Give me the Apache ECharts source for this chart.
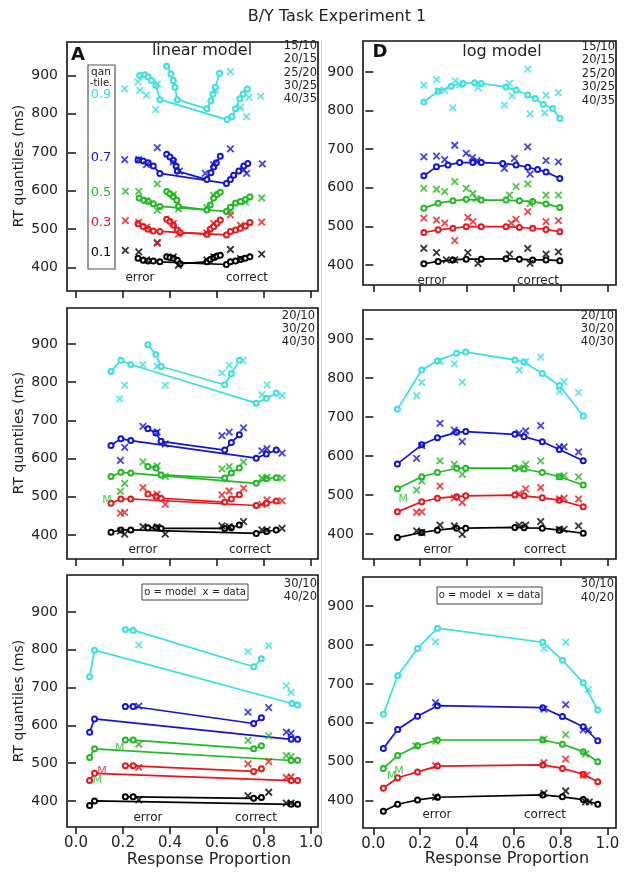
<!DOCTYPE html>
<html><head><meta charset="utf-8">
<script src="https://cdn.jsdelivr.net/npm/echarts@6.0.0/dist/echarts.min.js"></script>
<style>html,body{margin:0;padding:0;background:#fff}#c{width:632px;height:880px}</style>
</head><body><div id="c"></div>
<script>
// ---- tick labels / categories ----
const xTicks = [0, 0.2, 0.4, 0.6, 0.8, 1.0];
const yTicks = [400, 500, 600, 700, 800, 900];
const quantileLabels = ['0.1', '0.3', '0.5', '0.7', '0.9'];
const colors = ['#000000', '#e8161c', '#22b822', '#1414d2', '#38e0e0'];
const topConditions = ['15/10', '20/15', '25/20', '30/25', '40/35'];
const midConditions = ['20/10', '30/20', '40/30'];
const botConditions = ['30/10', '40/20'];

// ---- Panel A (linear model, top). Index = quantile 0.1,0.3,0.5,0.7,0.9 ----
const tlModel = [
  [[[0.264,424],[0.286,419],[0.307,417],[0.329,417],[0.357,415],[0.640,408],[0.657,415],[0.679,417],[0.700,421],[0.721,424],[0.740,428]],
   [[0.386,428],[0.400,426],[0.414,424],[0.431,419],[0.443,410],[0.557,415],[0.571,421],[0.586,426],[0.600,430],[0.614,432]]],
  [[[0.264,514],[0.286,507],[0.307,500],[0.329,495],[0.357,494],[0.640,485],[0.657,494],[0.679,498],[0.700,502],[0.721,508],[0.740,517]],
   [[0.386,526],[0.400,520],[0.414,511],[0.431,498],[0.443,491],[0.557,487],[0.571,500],[0.586,507],[0.600,515],[0.614,524]]],
  [[[0.269,581],[0.289,575],[0.307,572],[0.329,566],[0.357,559],[0.640,546],[0.657,557],[0.679,568],[0.700,572],[0.721,577],[0.740,584]],
   [[0.386,598],[0.400,592],[0.414,585],[0.429,575],[0.436,559],[0.557,550],[0.571,563],[0.586,581],[0.600,590],[0.614,596]]],
  [[[0.264,680],[0.286,677],[0.307,673],[0.329,664],[0.357,645],[0.640,619],[0.657,629],[0.671,640],[0.693,651],[0.714,664],[0.731,671]],
   [[0.386,695],[0.400,688],[0.414,679],[0.426,664],[0.431,651],[0.557,629],[0.574,647],[0.586,662],[0.597,673],[0.614,690]]],
  [[[0.271,900],[0.293,902],[0.307,896],[0.321,887],[0.340,874],[0.357,837],[0.643,785],[0.664,793],[0.679,813],[0.697,839],[0.711,852],[0.729,865]],
   [[0.386,924],[0.404,904],[0.414,887],[0.421,869],[0.431,837],[0.557,813],[0.574,834],[0.583,852],[0.593,869],[0.611,906]]]
];
const tlData = [
  [[0.210,445],[0.267,441],[0.346,465],[0.657,447],[0.790,435],[0.436,406],[0.300,420],[0.414,428],[0.586,428],[0.700,423],[0.557,420]],
  [[0.210,522],[0.267,518],[0.346,463],[0.657,537],[0.790,518],[0.300,505],[0.414,515],[0.436,487],[0.586,515],[0.700,510],[0.557,490]],
  [[0.210,598],[0.267,598],[0.346,618],[0.346,549],[0.657,546],[0.790,581],[0.300,575],[0.414,590],[0.586,588],[0.721,570],[0.436,553],[0.557,556]],
  [[0.207,681],[0.267,681],[0.346,712],[0.657,709],[0.440,651],[0.550,645],[0.726,645],[0.793,670],[0.300,668],[0.414,675],[0.586,668],[0.714,655]],
  [[0.207,865],[0.264,883],[0.271,861],[0.300,849],[0.339,811],[0.347,878],[0.657,910],[0.593,861],[0.700,817],[0.726,793],[0.736,843],[0.786,846]]
];

// ---- Panel D (log model, top) ----
const trModel = [
  [[[0.216,403],[0.277,409],[0.340,413],[0.397,415],[0.461,415],[0.567,416],[0.624,415],[0.681,413],[0.738,413],[0.797,411]]],
  [[[0.216,484],[0.277,491],[0.340,495],[0.397,499],[0.461,499],[0.567,499],[0.624,497],[0.681,495],[0.738,492],[0.797,486]]],
  [[[0.216,547],[0.277,560],[0.340,566],[0.397,570],[0.461,568],[0.567,568],[0.624,566],[0.681,564],[0.738,558],[0.797,549]]],
  [[[0.216,631],[0.270,654],[0.319,659],[0.369,665],[0.426,665],[0.461,665],[0.553,663],[0.610,659],[0.660,653],[0.702,647],[0.738,641],[0.797,624]]],
  [[[0.216,822],[0.277,850],[0.333,863],[0.383,870],[0.433,872],[0.461,870],[0.567,861],[0.610,853],[0.660,840],[0.692,831],[0.726,816],[0.766,805],[0.797,779]]]
];
const trData = [
  [[0.216,443],[0.270,432],[0.312,413],[0.348,413],[0.404,432],[0.447,404],[0.582,428],[0.660,443],[0.670,404],[0.738,428],[0.791,434]],
  [[0.216,521],[0.270,516],[0.305,508],[0.348,463],[0.404,523],[0.426,512],[0.589,508],[0.610,518],[0.660,538],[0.738,512],[0.791,515]],
  [[0.216,598],[0.270,596],[0.305,590],[0.348,616],[0.397,598],[0.426,585],[0.440,572],[0.582,581],[0.610,603],[0.660,610],[0.670,559],[0.738,581],[0.791,581]],
  [[0.216,680],[0.270,682],[0.305,673],[0.348,710],[0.397,689],[0.423,678],[0.443,670],[0.560,650],[0.603,676],[0.660,706],[0.670,635],[0.738,670],[0.791,667]],
  [[0.216,866],[0.270,880],[0.279,851],[0.305,852],[0.340,807],[0.350,877],[0.369,866],[0.447,859],[0.560,814],[0.582,870],[0.593,838],[0.660,907],[0.670,791],[0.738,840],[0.733,794],[0.791,846]]
];

// ---- linear model, middle ----
const mlModel = [
  [[[0.149,407],[0.191,413],[0.233,413],[0.767,404],[0.810,409],[0.852,413]],
   [[0.306,419],[0.340,419],[0.362,417],[0.633,417],[0.661,419],[0.695,426]]],
  [[[0.149,483],[0.191,494],[0.233,494],[0.767,477],[0.810,483],[0.852,489]],
   [[0.306,507],[0.340,501],[0.362,496],[0.633,486],[0.661,494],[0.695,505]]],
  [[[0.149,553],[0.191,564],[0.233,562],[0.767,535],[0.810,547],[0.852,550]],
   [[0.306,579],[0.340,575],[0.362,557],[0.633,549],[0.661,562],[0.695,575]]],
  [[[0.149,634],[0.191,652],[0.233,647],[0.767,601],[0.810,612],[0.852,622]],
   [[0.306,678],[0.340,667],[0.362,645],[0.633,622],[0.661,642],[0.695,662]]],
  [[[0.149,828],[0.191,857],[0.233,846],[0.767,745],[0.810,758],[0.852,771]],
   [[0.306,898],[0.340,872],[0.362,841],[0.633,793],[0.661,822],[0.695,857]]]
];
const mlData = [
  [[0.189,410],[0.207,402],[0.285,422],[0.345,421],[0.380,402],[0.621,424],[0.652,422],[0.713,435],[0.791,413],[0.813,413],[0.877,417]],
  [[0.189,457],[0.207,459],[0.285,524],[0.345,507],[0.380,480],[0.621,505],[0.652,515],[0.713,522],[0.791,480],[0.813,492],[0.877,489]],
  [[0.189,514],[0.207,535],[0.285,591],[0.345,581],[0.380,553],[0.621,573],[0.652,579],[0.713,591],[0.791,549],[0.813,551],[0.877,549]],
  [[0.189,595],[0.207,629],[0.285,684],[0.345,669],[0.380,638],[0.621,660],[0.652,669],[0.713,680],[0.791,620],[0.813,626],[0.877,614]],
  [[0.186,756],[0.207,792],[0.285,846],[0.345,841],[0.380,792],[0.621,824],[0.652,844],[0.711,857],[0.791,767],[0.813,793],[0.877,765]]
];
const mlMarkGreen = [[0.132,492]];

// ---- log model, middle ----
const mrModel = [
  [[[0.103,391],[0.207,404],[0.274,410],[0.356,415],[0.395,415],[0.605,417],[0.644,416],[0.722,415],[0.795,410],[0.897,402]]],
  [[[0.103,457],[0.207,483],[0.274,492],[0.356,496],[0.395,498],[0.605,500],[0.644,498],[0.722,493],[0.795,487],[0.897,470]]],
  [[[0.103,516],[0.207,547],[0.274,558],[0.356,569],[0.395,569],[0.605,569],[0.644,567],[0.722,558],[0.795,547],[0.897,526]]],
  [[[0.103,580],[0.207,629],[0.274,647],[0.356,661],[0.395,663],[0.605,656],[0.644,650],[0.722,637],[0.795,617],[0.897,588]]],
  [[[0.103,720],[0.207,821],[0.274,845],[0.356,864],[0.395,867],[0.605,847],[0.644,841],[0.722,812],[0.795,781],[0.897,703]]]
];
const mrData = [
  [[0.185,408],[0.207,404],[0.285,423],[0.346,421],[0.380,399],[0.623,423],[0.651,423],[0.715,432],[0.795,412],[0.815,412],[0.877,421]],
  [[0.185,456],[0.207,457],[0.285,523],[0.346,493],[0.380,481],[0.623,503],[0.651,516],[0.715,519],[0.795,490],[0.815,492],[0.877,490]],
  [[0.185,513],[0.207,536],[0.285,588],[0.346,579],[0.380,553],[0.623,570],[0.651,579],[0.715,588],[0.795,547],[0.815,550],[0.877,547]],
  [[0.185,594],[0.207,627],[0.285,684],[0.346,667],[0.380,637],[0.623,659],[0.651,665],[0.715,678],[0.795,624],[0.815,624],[0.877,611]],
  [[0.185,755],[0.207,789],[0.285,843],[0.346,837],[0.380,790],[0.623,821],[0.651,843],[0.715,854],[0.795,766],[0.815,791],[0.877,763]]
];
const mrMarkGreen = [[0.128,490]];

// ---- linear model, bottom ----
const blModel = [
  [[[0.058,388],[0.079,400],[0.916,391],[0.943,391]], [[0.210,411],[0.243,411],[0.756,407],[0.789,409]]],
  [[[0.058,454],[0.079,473],[0.916,454],[0.943,454]], [[0.210,493],[0.243,493],[0.756,478],[0.789,485]]],
  [[[0.058,515],[0.079,538],[0.916,507],[0.943,508]], [[0.210,561],[0.243,561],[0.756,538],[0.789,546]]],
  [[[0.058,582],[0.079,617],[0.916,563],[0.943,563]], [[0.210,650],[0.243,650],[0.756,605],[0.789,620]]],
  [[[0.058,729],[0.079,799],[0.919,658],[0.943,654]], [[0.210,854],[0.243,852],[0.756,755],[0.789,776]]]
];
const blData = [
  [[0.267,403],[0.732,414],[0.820,423],[0.895,394],[0.915,394]],
  [[0.267,489],[0.732,498],[0.820,504],[0.895,462],[0.915,464]],
  [[0.267,550],[0.732,560],[0.820,572],[0.895,520],[0.915,517]],
  [[0.267,651],[0.732,635],[0.820,647],[0.895,582],[0.915,579]],
  [[0.267,813],[0.732,795],[0.820,811],[0.895,705],[0.915,687]]
];
const blMarkGreen = [[0.186,541],[0.092,456]];
const blMarkRed = [[0.111,479]];

// ---- log model, bottom ----
const brModel = [
  [[[0.043,373],[0.104,391],[0.189,402],[0.274,409],[0.724,415],[0.808,410],[0.897,403],[0.959,391]]],
  [[[0.043,432],[0.104,459],[0.189,474],[0.274,489],[0.724,492],[0.808,483],[0.897,468],[0.959,449]]],
  [[[0.043,483],[0.104,516],[0.189,541],[0.274,556],[0.724,556],[0.808,545],[0.897,526],[0.959,500]]],
  [[[0.043,534],[0.104,583],[0.189,617],[0.274,644],[0.724,639],[0.808,616],[0.897,590],[0.959,554]]],
  [[[0.043,622],[0.104,721],[0.189,791],[0.274,843],[0.724,807],[0.808,761],[0.897,703],[0.959,633]]]
];
const brData = [
  [[0.266,409],[0.729,419],[0.822,425],[0.907,397],[0.923,397]],
  [[0.266,490],[0.729,498],[0.822,507],[0.897,466],[0.912,466]],
  [[0.266,553],[0.729,558],[0.822,570],[0.907,520],[0.182,541]],
  [[0.266,652],[0.729,635],[0.822,647],[0.897,582],[0.919,582]],
  [[0.266,808],[0.729,791],[0.822,807],[0.919,686]]
];
const brMarkGreen = [[0.078,462],[0.110,477]];

// ---- layout ----
const FONT = 'DejaVu Sans';
const panels = [
  {grid:{left:67, top:42, width:251, height:249}, x:[-0.0383,1.0298], y:[339,987], model:tlModel, data:tlData, bottom:false},
  {grid:{left:363, top:41, width:253, height:244}, x:[-0.044,1.037], y:[348,980], model:trModel, data:trData, bottom:false},
  {grid:{left:67, top:308, width:251, height:251}, x:[-0.0383,1.0298], y:[337,994], model:mlModel, data:mlData, bottom:false},
  {grid:{left:363, top:310, width:253, height:249}, x:[-0.044,1.037], y:[336,975], model:mrModel, data:mrData, bottom:false},
  {grid:{left:67, top:575, width:251, height:252}, x:[-0.0383,1.0298], y:[331,998], model:blModel, data:blData, bottom:true},
  {grid:{left:363, top:577, width:253, height:251}, x:[-0.044,1.037], y:[330,974.5], model:brModel, data:brData, bottom:true}
];

const xPath = 'path://M0,0L10,10M10,0L0,10';
const grids = [], xAxes = [], yAxes = [], series = [];
panels.forEach((p, gi) => {
  grids.push(Object.assign({show:true, borderColor:'#111', borderWidth:1.6, backgroundColor:'#fff', containLabel:false}, p.grid));
  xAxes.push({gridIndex:gi, type:'value', min:p.x[0], max:p.x[1],
    axisLine:{show:false}, splitLine:{show:false},
    axisTick:{show:true, customValues:xTicks, length:7, lineStyle:{color:'#111', width:1.5}},
    axisLabel:{show:p.bottom, customValues:xTicks, formatter:v=>v.toFixed(1), fontSize:15, fontFamily:FONT, color:'#222', margin:9}});
  yAxes.push({gridIndex:gi, type:'value', min:p.y[0], max:p.y[1],
    axisLine:{show:false}, splitLine:{show:false},
    axisTick:{show:true, customValues:yTicks, length:8, lineStyle:{color:'#111', width:1.5}},
    axisLabel:{show:true, customValues:yTicks, fontSize:14, fontFamily:FONT, color:'#222', margin:9}});
  p.model.forEach((polys, qi) => polys.forEach(poly => series.push({
    type:'line', xAxisIndex:gi, yAxisIndex:gi, data:poly, symbol:'emptyCircle', symbolSize:5,
    lineStyle:{color:colors[qi], width:1.7}, itemStyle:{color:colors[qi], borderWidth:1.3},
    animation:false, silent:true, z:2})));
  p.data.forEach((pts, qi) => series.push({
    type:'scatter', xAxisIndex:gi, yAxisIndex:gi, data:pts, symbol:xPath, symbolSize:6.5,
    itemStyle:{color:'rgba(0,0,0,0)', borderColor:colors[qi], borderWidth:1.8},
    animation:false, silent:true, z:3}));
});
function mSeries(gi, pts, color) {
  series.push({type:'scatter', xAxisIndex:gi, yAxisIndex:gi, data:pts, symbolSize:1,
    itemStyle:{color:'rgba(0,0,0,0)'}, animation:false, silent:true, z:4,
    label:{show:true, position:'inside', formatter:'M', color:color, fontSize:11, fontFamily:FONT}});
}
mSeries(2, mlMarkGreen, colors[2]);
mSeries(3, mrMarkGreen, colors[2]);
mSeries(4, blMarkGreen, colors[2]);
mSeries(4, blMarkRed, colors[1]);
mSeries(5, brMarkGreen, colors[2]);

// ---- text annotations ----
const g = [];
function txt(s, x, y, size, opts) {
  opts = opts || {};
  g.push({type:'text', x:x, y:y, rotation:opts.rot || 0, z:10, silent:true,
    style:{text:s, fill:opts.color || '#222', font:(opts.bold ? 'bold ' : '') + size + 'px "' + FONT + '"',
      textAlign:opts.align || 'center', textVerticalAlign:'middle', align:opts.align || 'center', verticalAlign:'middle'}});
}
g.push({type:'line', shape:{x1:321.5, y1:40, x2:321.5, y2:835}, style:{stroke:'#cfcfcf', lineWidth:1}, z:0, silent:true});
txt('B/Y Task Experiment 1', 337, 17, 16);
[166, 433, 701].forEach(y => txt('RT quantiles (ms)', 19, y, 14, {rot:Math.PI/2}));
txt('A', 78, 55, 18, {bold:true, color:'#111'});
txt('D', 380, 52, 18, {bold:true, color:'#111'});
txt('linear model', 202, 51, 16);
txt('log model', 502, 52, 16);
topConditions.forEach((s, i) => { txt(s, 317, 46 + i*13.3, 11.5, {align:'right'}); txt(s, 615, 47 + i*13.5, 11.5, {align:'right'}); });
midConditions.forEach((s, i) => { txt(s, 315, 316 + i*13, 11.5, {align:'right'}); txt(s, 614, 316 + i*13, 11.5, {align:'right'}); });
botConditions.forEach((s, i) => { txt(s, 317, 584 + i*13, 11.5, {align:'right'}); txt(s, 614, 584 + i*14, 11.5, {align:'right'}); });
// quantile legend box
g.push({type:'rect', shape:{x:88, y:65, width:27, height:204}, style:{fill:'none', stroke:'#555', lineWidth:1.2}, z:9, silent:true});
txt('qan', 101, 72, 10.5);
txt('-tile.', 101, 83, 10);
const legendY = [253, 223, 193, 158, 95];
quantileLabels.forEach((s, i) => txt(s, 101, legendY[i], 13, {color:colors[i]}));
// error / correct
[[140,247,278],[432,538,281],[143,250,550],[438,545,550],[148,256,818],[437,545,815]].forEach(a => {
  txt('error', a[0], a[2], 12); txt('correct', a[1], a[2], 12);
});
// model / data boxes
g.push({type:'rect', shape:{x:142, y:584, width:106, height:16}, style:{fill:'#fff', stroke:'#444', lineWidth:1}, z:9, silent:true});
txt('o = model  x = data', 195, 592, 10);
g.push({type:'rect', shape:{x:437, y:587, width:105, height:17}, style:{fill:'#fff', stroke:'#444', lineWidth:1}, z:9, silent:true});
txt('o = model  x = data', 489.5, 595.5, 10);
txt('Response Proportion', 209, 860, 16);
txt('Response Proportion', 507, 859, 16);

const chart = echarts.init(document.getElementById('c'), null, {renderer:'canvas'});
chart.setOption({animation:false, backgroundColor:'#fff', grid:grids, xAxis:xAxes, yAxis:yAxes, series:series, graphic:{elements:g}});
</script></body></html>
